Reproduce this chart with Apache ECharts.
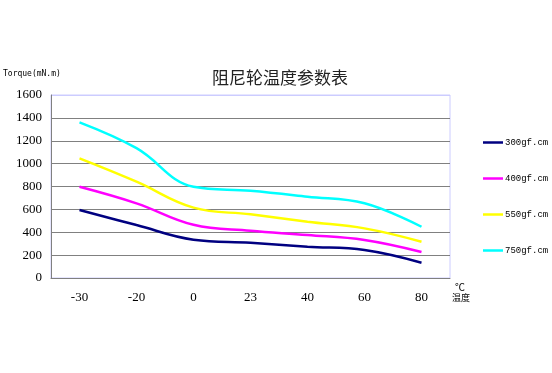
<!DOCTYPE html>
<html><head><meta charset="utf-8">
<script src="https://cdn.jsdelivr.net/npm/echarts@6/dist/echarts.min.js"></script>
<style>html,body{margin:0;padding:0;background:#fff}#c{width:552px;height:373px}</style>
</head><body><div id="c"></div>
<script>
const categories = ['-30', '-20', '0', '23', '40', '60', '80'];
const seriesNames = ['300gf.cm', '400gf.cm', '550gf.cm', '750gf.cm'];
const s300 = [595, 463, 335, 308, 274, 245, 134];
const s400 = [798, 653, 465, 413, 376, 332, 227];
const s550 = [1046, 842, 615, 557, 492, 434, 317];
const s750 = [1361, 1135, 798, 763, 711, 653, 448];
const yTicks = [0, 200, 400, 600, 800, 1000, 1200, 1400, 1600];
const colors = ['#000080', '#ff00ff', '#ffff00', '#00ffff'];
const values = [s300, s400, s550, s750];

const chart = echarts.init(document.getElementById('c'));
chart.setOption({
  animation: false,
  backgroundColor: '#fff',
  title: {
    text: '阻尼轮温度参数表', left: 275, top: 64, textAlign: 'center',
    textStyle: { fontFamily: 'Noto Sans CJK SC', fontSize: 17, fontWeight: 'normal', color: '#222' }
  },
  graphic: [
    { type: 'text', left: 3, top: 70, style: { text: 'Torque(mN.m)', font: '8px "DejaVu Sans Mono"', fill: '#000' } },
    { type: 'text', left: 455, top: 282, style: { text: '℃', font: '10px "Noto Sans CJK SC"', fill: '#000' } },
    { type: 'text', left: 452, top: 293, style: { text: '温度', font: '9px "Noto Sans CJK SC"', fill: '#000' } }
  ],
  legend: {
    orient: 'vertical', left: 483, top: 138, padding: 0, itemGap: 27, itemWidth: 20, itemHeight: 12,
    icon: 'path://M0,5 L20,5 L20,7.5 L0,7.5 Z',
    textStyle: { fontFamily: 'Liberation Mono', fontSize: 9, color: '#000', padding: [0, 0, 0, -3] },
    data: seriesNames
  },
  grid: { left: 51, right: 102, top: 95, bottom: 95, show: true, borderColor: '#ccccff', borderWidth: 1 },
  xAxis: {
    type: 'category', data: categories, boundaryGap: true,
    axisLine: { lineStyle: { color: '#808080', width: 1 } },
    axisTick: { show: false },
    axisLabel: { fontFamily: 'Liberation Serif', fontSize: 13, color: '#000', margin: 13 }
  },
  yAxis: {
    type: 'value', min: 0, max: 1600, interval: 200,
    axisLine: { show: true, lineStyle: { color: '#808080', width: 1 } },
    axisTick: { show: false },
    axisLabel: { fontFamily: 'Liberation Serif', fontSize: 13, color: '#000', margin: 9,
      formatter: v => yTicks.includes(v) ? String(v) : '' },
    splitLine: { lineStyle: { color: ['#808080','#808080','#808080','#808080','#808080','#808080','#808080','#808080','#ccccff'], width: 1 } }
  },
  series: values.map((d, i) => ({
    name: seriesNames[i], type: 'line', data: d, smooth: 0.4, symbol: 'none',
    itemStyle: { color: colors[i] },
    lineStyle: { color: colors[i], width: 2.5 }
  }))
});
</script></body></html>
